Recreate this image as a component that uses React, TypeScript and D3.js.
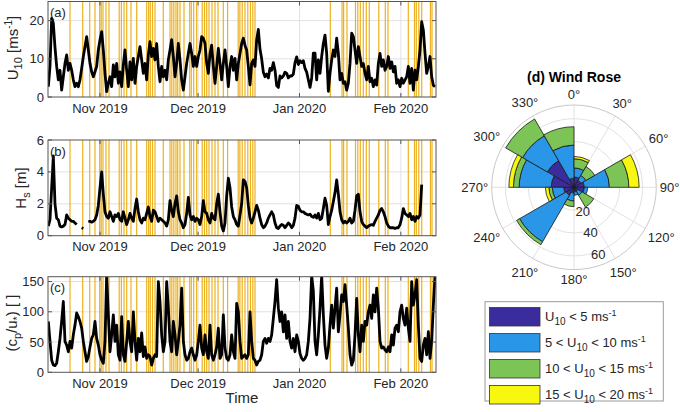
import React from 'react';
import * as d3 from 'd3';

// Time is kept as day numbers counted from 1 Oct 2019 00:00 UTC
const ORIGIN = Date.UTC(2019, 9, 1);
const dayToDate = (d: number) => new Date(ORIGIN + d * 864e5);

const X_START_DAY = 15.1;
const X_END_DAY = 133.75;
// the three series share one sampling grid (~12 h)
const SAMPLE_FIRST_DAY = 15.2;
const SAMPLE_LAST_DAY = 133.45;

const MONTH_TICKS = ['2019-11-01', '2019-12-01', '2020-01-01', '2020-02-01'];
const MONTH_LABELS = ['Nov 2019', 'Dec 2019', 'Jan 2020', 'Feb 2020'];

// highlighted events (orange lines), day numbers
const EVENT_DAYS = [
  21.83, 25.71, 27.85, 29.47, 30.91, 31.37, 31.92, 32.83, 33.75, 36.87,
  37.54, 38.34, 39.17, 40.48, 42.22, 45.28, 45.89, 46.38, 47.06, 47.82,
  50.36, 52.41, 52.96, 53.57, 54.24, 54.76, 55.46, 56.69, 58.43, 58.92,
  59.65, 60.57, 62.25, 62.96, 63.63, 64.33, 65.25, 66.17, 67.09, 68.71,
  70.02, 73.26, 73.78, 74.49, 75.34, 76.2, 77.02, 77.73, 78.4, 101.43,
  105.01, 105.5, 106.53, 109.13, 109.84, 110.6, 111.52, 112.44, 113.35, 116.26,
  118.25, 119.07, 125.28, 127.17, 127.73, 128.49, 129.38, 132.04, 132.53,
];

// (a) wind speed U10 [m/s]
const U10 = [
  2.7, 8, 20.6, 19.3, 13, 8, 4.5, 7, 1.8, 5.3,
  8.8, 11, 7, 8.8, 7, 4.5, 2.7, 3.6, 2.7, 4.5,
  7.5, 10.6, 13.2, 15.8, 12.3, 8.8, 6.6, 5.3, 6.6, 8,
  12.3, 15, 17.1, 12.3, 6.2, 1.4, 3.6, 5.3, 2.7, 8.4,
  5.3, 8.8, 3.6, 6.6, 2.7, 8.4, 12.3, 7, 2.7, 9.2,
  4.5, 10.1, 3.6, 8, 10.6, 13.2, 9.7, 6.2, 8.8, 4.5,
  11, 14.5, 10.6, 12.7, 9.7, 14, 8, 4, 8, 5.3,
  7, 4.5, 9.7, 12.3, 15, 10.6, 5.3, 8.8, 14, 9.7,
  4.5, 1.8, 5.3, 8.8, 11.4, 14, 11.4, 8, 10.6, 8,
  10.6, 12.3, 15.8, 15.4, 14, 8.8, 6.2, 11.4, 13.6, 8,
  3.6, 8, 12.7, 8.8, 4.5, 8.8, 12.3, 8, 2.7, 8,
  10.6, 7, 10.1, 4.5, 8.8, 11.4, 14, 15.4,
  13.5, 12.3, 8, 3.2, 8.8, 9.7, 8, 15, 17.7, 12.5,
  10, 6.5, 5.3, 6, 5, 7.5, 7, 9, 7, 3,
  2.5, 5.5, 5, 5.5, 6.5, 6.2, 5, 5.5, 5.5, 6,
  9, 10.5, 8.5, 9.5, 9, 9.5, 7.5, 6.5, 4.5, 2.5,
  5, 11.5, 11.5, 4.5, 9.7, 6.2, 10.6, 14, 16.2, 11.4,
  1.5, 6.2, 9.7, 12.3, 10.6, 15.4, 11.4, 4.5, 6.2, 3.6,
  4, 1.8, 3.6, 8.8, 16.7, 15.8, 12.3, 8.8, 13.2, 10.6,
  8, 8.8, 6.2, 4.5, 8, 4, 4.9, 2.7, 4.5, 3.1,
  8.8, 11.4, 8, 9.7, 7, 8, 10.6, 7.5, 9.2, 6.6,
  8, 3.6, 4.5, 2.7, 4.9, 3.6, 4.5, 5.3, 8, 3.6,
  7.5, 1.8, 7, 4.5, 8, 12.3, 19.7, 17.5, 11.4, 6.2,
  8, 10.6, 5.3, 3.1, 2.7,
];

// (b) significant wave height Hs [m], null = no data
const HS = [
  0.6, 1.0, 3.0, 5.0, 2.0, 1.1, 1.0, 0.6, 0.55, 0.6,
  0.7, 1.3, 1.1, 1.0, 0.9, 0.9, 0.8, 0.7, null, null,
  0.5, 0.45, null, null, 0.9, 0.9, 0.85, 0.9, 1.0, 1.3,
  1.9, 3.0, 4.0, 2.6, 1.5, 1.2, 1.1, 1.5, 1.2, 0.9,
  1.3, 1.2, 1.4, 1.0, 0.9, 1.5, 1.1, 0.7, 1.0, 1.4,
  1.1, 0.9, 1.7, 2.3, 1.5, 1.0, 0.8, 1.1, 1.0, 1.4,
  1.8, 1.2, 0.9, 1.6, 1.5, 1.2, 0.9, 1.1, 1.0, 0.9,
  0.8, 0.6, 1.0, 2.2, 1.6, 1.2, 2.0, 2.5, 1.5, 1.0,
  0.8, 0.5, 0.7, 1.4, 2.4, 1.3, 1.0, 1.2, 0.9, 1.1,
  1.0, 0.7, 1.2, 2.2, 1.5, 1.4, 1.0, 0.8, 1.4, 1.1,
  1.0, 2.0, 2.6, 1.5, 0.6, 0.3, 0.8, 2.5, 3.6, 3.0,
  1.8, 1.2, 1.0, 0.7, 0.6, 1.3, 2.0, 3.5,
  3.4, 3.0, 1.9, 1.1, 0.8, 1.1, 1.5, 1.9, 1.6, 1.1,
  0.7, 0.5, 0.6, 0.8, 1.1, 1.3, 1.5, 1.3, 0.8, 0.5,
  0.45, 0.6, 0.7, 0.65, 0.5, 0.65, 0.8, 0.7, 0.5, 0.65,
  1.1, 1.9, 1.85, 1.6, 1.5, 1.5, 1.4, 1.35, 1.3, 1.35,
  1.2, 1.15, 1.3, 1.1, 1.4, 1.0, 1.1, 1.7, 2.35, 1.9,
  0.7, 1.2, 1.6, 2.15, 2.7, 3.5, 2.6, 1.5, 1.0, 0.8,
  0.9, 0.8, 0.9, 1.1, 0.8, 0.9, 1.6, 2.5, 2.6, 1.5,
  0.9, 0.7, 0.6, 0.5, 0.6, 0.65, 0.7, 0.65, 0.9, 1.1,
  1.3, 1.6, 1.7, 1.5, 1.2, 0.8, 0.6, 0.5, 0.5, 0.5,
  0.45, 0.5, 0.5, 0.7, 1.1, 1.7, 1.4, 1.3, 1.2, 1.4,
  1.0, 1.2, 0.9, 1.2, 1.1, 1.3, 3.2, null, null, null,
  null, null, null, null, null,
];

// (c) wave age cp/u*
const CP_USTAR = [
  84, 51, 20, 12, 11, 15, 34, 56, 84, 117,
  51, 45, 34, 51, 40, 62, 78, 98, 92, 84,
  73, 51, 34, 18, 26, 42, 56, 62, 84, 56,
  45, 29, 20, 15, 51, 160, 95, 34, 62, 95,
  51, 78, 29, 20, 92, 29, 18, 51, 84, 51,
  34, 100, 51, 20, 56, 34, 65, 26, 42, 23,
  29, 26, 12, 23, 29, 26, 150, 117, 62, 34,
  51, 150, 106, 51, 34, 84, 62, 29, 51, 78,
  139, 51, 29, 20, 23, 34, 40, 29, 20, 29,
  51, 78, 40, 29, 62, 34, 23, 78, 29, 20,
  29, 42, 73, 23, 29, 95, 40, 23, 20, 29,
  62, 34, 23, 114, 100, 51, 23, 26,
  29, 23, 29, 100, 51, 23, 20, 12, 18, 20,
  29, 51, 56, 48, 56, 51, 62, 89, 117, 153,
  106, 84, 100, 67, 95, 56, 84, 51, 40, 56,
  34, 62, 51, 31, 23, 20, 23, 29, 51, 89,
  160, 134, 51, 29, 62, 106, 160, 95, 45, 23,
  40, 78, 111, 73, 106, 139, 67, 95, 128, 117,
  145, 111, 73, 29, 12, 20, 62, 122, 62, 34,
  78, 51, 84, 78, 100, 111, 89, 128, 100, 139,
  106, 51, 40, 42, 37, 34, 42, 34, 62, 45,
  73, 78, 67, 100, 111, 89, 78, 106, 73, 51,
  150, 111, 128, 153, 78, 23, 18, 45, 56, 29,
  67, 23, 51, 111, 160,
];

// (d) wind rose, 30 degree direction bins, counts per speed class
const DIR_BINS = [0, 30, 60, 90, 120, 150, 180, 210, 240, 270, 300, 330];
const BIN_WIDTH = 30;
const WR_LT5 = [9, 7, 9, 9, 4, 4, 5, 8, 9, 20, 27, 8];
const WR_5_10 = [8, 5, 22, 3, 4, 3, 7, 47, 10, 28, 25, 29];
const WR_10_15 = [8, 9, 17, 0, 12, 0, 5, 3, 3, 5, 17, 16];
const WR_15_20 = [2, 0, 9, 0, 0, 0, 0, 0, 3, 4, 0, 0];
const R_TICKS = [20, 40, 60];
const R_MAX = 72;

const CLASS_COLORS = ['#3b2c9e', '#2a96e8', '#7cc456', '#f7f70f'];
const LEGEND_PREFIX = ['', '5 < ', '10 < ', '15 < '];
const LEGEND_SUFFIX = [' < 5 ms', ' < 10 ms', ' < 15 ms', ' < 20 ms'];

const FONT = '"Liberation Sans", Arial, Helvetica, sans-serif';
const TEXT = '#262626';
const GRID = '#e2e2e2';
const AXIS = '#555';
const EVENT_COLOR = '#EDB120';

const PLOT_L = 48;
const PLOT_R = 436;

const PANELS = [
  { id: 'a', top: 1.5, bottom: 97, max: 25, ticks: [0, 10, 20], values: U10, tag: '(a)', lx: 18, ly: 48 },
  { id: 'b', top: 140, bottom: 235.7, max: 6, ticks: [0, 2, 4, 6], values: HS, tag: '(b)', lx: 26, ly: 188 },
  { id: 'c', top: 276.7, bottom: 372.3, max: 158, ticks: [0, 50, 100, 150], values: CP_USTAR, tag: '(c)', lx: 17, ly: 323 },
];

const YLabel = ({ id }: { id: string }) => {
  if (id === 'a')
    return (
      <>
        U<tspan fontSize={11} dy={4}>10</tspan>
        <tspan dy={-4}> [ms</tspan>
        <tspan fontSize={10} dy={-6}>-1</tspan>
        <tspan dy={6}>]</tspan>
      </>
    );
  if (id === 'b')
    return (
      <>
        H<tspan fontSize={11} dy={4}>s</tspan>
        <tspan dy={-4}> [m]</tspan>
      </>
    );
  return (
    <>
      (c<tspan fontSize={11} dy={4}>p</tspan>
      <tspan dy={-4}>/u</tspan>
      <tspan fontSize={11} dy={4}>*</tspan>
      <tspan dy={-4}>) [ ]</tspan>
    </>
  );
};

export default function App() {
  const parse = d3.utcParse('%Y-%m-%d');
  const monthDates = MONTH_TICKS.map(s => parse(s) as Date);
  const x = d3
    .scaleUtc()
    .domain([dayToDate(X_START_DAY), dayToDate(X_END_DAY)])
    .range([PLOT_L, PLOT_R]);

  const n = U10.length;
  const times = d3
    .range(n)
    .map(i => dayToDate(SAMPLE_FIRST_DAY + (i * (SAMPLE_LAST_DAY - SAMPLE_FIRST_DAY)) / (n - 1)));

  // wind rose
  const cx = 574;
  const cy = 187.3;
  const r = d3.scaleLinear().domain([0, R_MAX]).range([0, 82.3]);
  const rows = DIR_BINS.map((d, i) => ({
    dir: d,
    c0: WR_LT5[i],
    c1: WR_5_10[i],
    c2: WR_10_15[i],
    c3: WR_15_20[i],
  }));
  const stacked = d3.stack<any>().keys(['c0', 'c1', 'c2', 'c3'])(rows);
  const arc = d3.arc<any>();
  const rad = (deg: number) => (deg * Math.PI) / 180;

  return (
    <svg
      width={680}
      height={412}
      style={{ position: 'absolute', left: 0, top: 0, background: '#fff' }}
      fontFamily={FONT}
    >
      {PANELS.map(p => {
        const y = d3.scaleLinear().domain([0, p.max]).range([p.bottom, p.top]);
        const line = d3
          .line<number | null>()
          .defined(v => v !== null)
          .x((_, i) => x(times[i]))
          .y(v => y(v as number));
        return (
          <g key={p.id}>
            <clipPath id={`clip-${p.id}`}>
              <rect x={PLOT_L} y={p.top} width={PLOT_R - PLOT_L} height={p.bottom - p.top} />
            </clipPath>
            {monthDates.map((d, i) => (
              <line key={'gx' + i} x1={x(d)} x2={x(d)} y1={p.top} y2={p.bottom} stroke={GRID} />
            ))}
            {p.ticks
              .filter(t => t > 0 && t < p.max)
              .map(t => (
                <line key={'gy' + t} x1={PLOT_L} x2={PLOT_R} y1={y(t)} y2={y(t)} stroke={GRID} />
              ))}
            {EVENT_DAYS.map((d, i) => (
              <line
                key={'ev' + i}
                x1={x(dayToDate(d))}
                x2={x(dayToDate(d))}
                y1={p.top}
                y2={p.bottom}
                stroke={EVENT_COLOR}
                strokeWidth={1.2}
              />
            ))}
            <path
              d={line(p.values) || ''}
              fill="none"
              stroke="#000"
              strokeWidth={2.8}
              strokeLinejoin="round"
              clipPath={`url(#clip-${p.id})`}
            />
            <rect
              x={PLOT_L}
              y={p.top}
              width={PLOT_R - PLOT_L}
              height={p.bottom - p.top}
              fill="none"
              stroke={AXIS}
              strokeWidth={1}
            />
            {monthDates.map((d, i) => (
              <g key={'tx' + i}>
                <line x1={x(d)} x2={x(d)} y1={p.bottom} y2={p.bottom - 4} stroke={AXIS} />
                <line x1={x(d)} x2={x(d)} y1={p.top} y2={p.top + 4} stroke={AXIS} />
                <text x={x(d)} y={p.bottom + 15.5} textAnchor="middle" fontSize={13} fill={TEXT}>
                  {MONTH_LABELS[i]}
                </text>
              </g>
            ))}
            {p.ticks.map(t => (
              <g key={'ty' + t}>
                <line x1={PLOT_L} x2={PLOT_L + 4} y1={y(t)} y2={y(t)} stroke={AXIS} />
                <line x1={PLOT_R} x2={PLOT_R - 4} y1={y(t)} y2={y(t)} stroke={AXIS} />
                <text x={PLOT_L - 4} y={y(t)} dy="0.35em" textAnchor="end" fontSize={13} fill={TEXT}>
                  {t}
                </text>
              </g>
            ))}
            <text x={PLOT_L + 2} y={p.top + 15.5} fontSize={13} fill={TEXT}>
              {p.tag}
            </text>
            <text
              transform={`translate(${p.lx},${p.ly}) rotate(-90)`}
              textAnchor="middle"
              fontSize={15}
              fill={TEXT}
            >
              <YLabel id={p.id} />
            </text>
          </g>
        );
      })}
      <text x={(PLOT_L + PLOT_R) / 2} y={403} textAnchor="middle" fontSize={15} fill={TEXT}>
        Time
      </text>

      {/* (d) wind rose */}
      <g transform={`translate(${cx},${cy})`}>
        {R_TICKS.map(t => (
          <circle key={'rc' + t} r={r(t)} fill="none" stroke={GRID} />
        ))}
        {d3.range(0, 360, 30).map(a => (
          <line
            key={'sp' + a}
            x1={0}
            y1={0}
            x2={r(R_MAX) * Math.sin(rad(a))}
            y2={-r(R_MAX) * Math.cos(rad(a))}
            stroke={GRID}
          />
        ))}
        <circle r={r(R_MAX)} fill="none" stroke="#c8c8c8" />
        {stacked.map((layer, k) =>
          layer.map((seg, i) =>
            seg[1] > seg[0] ? (
              <path
                key={`w${k}-${i}`}
                d={
                  arc({
                    innerRadius: r(seg[0]),
                    outerRadius: r(seg[1]),
                    startAngle: rad(DIR_BINS[i]),
                    endAngle: rad(DIR_BINS[i] + BIN_WIDTH),
                  }) || ''
                }
                fill={CLASS_COLORS[k]}
                stroke="#1a1a1a"
                strokeWidth={0.8}
              />
            ) : null
          )
        )}
        {d3.range(0, 360, 30).map(a => {
          const label = `${a}°`;
          const w = String(a).length * 7.2 + 5;
          const s = Math.sin(rad(a));
          const c = Math.cos(rad(a));
          const rr = 86 + (w / 2) * Math.abs(s) + 6.5 * Math.abs(c);
          return (
            <text
              key={'tl' + a}
              x={rr * s}
              y={-rr * c}
              dy="0.35em"
              textAnchor="middle"
              fontSize={13}
              fill={TEXT}
            >
              {label}
            </text>
          );
        })}
        {R_TICKS.map(t => (
          <text
            key={'rl' + t}
            x={(r(t) + 2.5) * Math.sin(rad(160))}
            y={-(r(t) + 2.5) * Math.cos(rad(160))}
            dy="0.35em"
            textAnchor="middle"
            fontSize={13}
            fill={TEXT}
          >
            {t}
          </text>
        ))}
      </g>
      <text x={cx} y={82} textAnchor="middle" fontSize={14} fontWeight="bold" fill="#000">
        (d) Wind Rose
      </text>

      {/* legend */}
      <rect x={485} y={301.7} width={178.3} height={99.3} fill="#fff" stroke="#9a9a9a" />
      {CLASS_COLORS.map((col, i) => {
        const top = 307.5 + i * 26;
        return (
          <g key={'lg' + i}>
            <rect x={489.5} y={top} width={50.5} height={18.5} fill={col} stroke="#333" strokeWidth={0.8} />
            <text x={545} y={top + 13.5} fontSize={13} fill={TEXT}>
              {LEGEND_PREFIX[i]}U<tspan fontSize={10} dy={4}>10</tspan>
              <tspan dy={-4}>{LEGEND_SUFFIX[i]}</tspan>
              <tspan fontSize={9} dy={-5}>-1</tspan>
            </text>
          </g>
        );
      })}
    </svg>
  );
}
